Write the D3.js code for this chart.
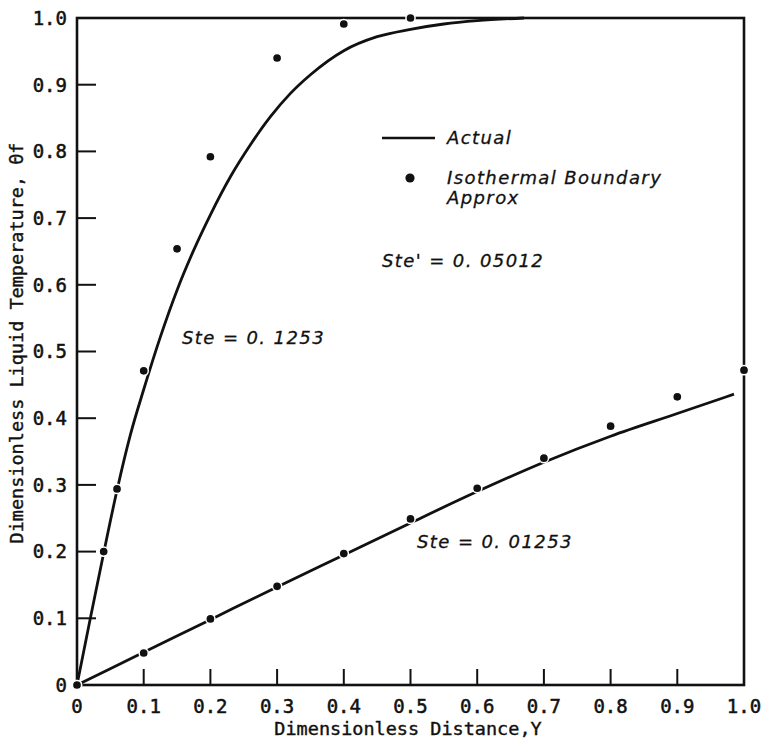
<!DOCTYPE html>
<html>
<head>
<meta charset="utf-8">
<script src="https://cdn.jsdelivr.net/npm/d3@7"></script>
<style>
  body { margin: 0; background: #fff; }
  .tick-label { font-family: "DejaVu Sans Mono", monospace; font-size: 19px; fill: #111; stroke: #111; stroke-width: 0.5px; }
  .axis-title { font-family: "DejaVu Sans Mono", monospace; font-size: 18.5px; fill: #111; stroke: #111; stroke-width: 0.4px; }
  .note { font-family: "DejaVu Sans", sans-serif; font-style: italic; font-size: 18px; letter-spacing: 1.4px; fill: #111; stroke: #111; stroke-width: 0.3px; }
</style>
</head>
<body>
<svg id="chart"></svg>
<script>
// Constants
const width = 770;
const height = 744;
const ink = "#111";

// Data: "Actual" curves
const highCurveX = [0, 0.02, 0.04, 0.06, 0.08, 0.10, 0.125, 0.15, 0.175, 0.20, 0.23, 0.26, 0.29, 0.32, 0.35, 0.40, 0.45, 0.50, 0.55, 0.60, 0.67];
const highCurveY = [0, 0.10, 0.198, 0.292, 0.375, 0.443, 0.522, 0.592, 0.652, 0.705, 0.762, 0.81, 0.852, 0.887, 0.915, 0.951, 0.972, 0.983, 0.991, 0.996, 1.0];
const lowCurveX = [0, 0.1, 0.2, 0.3, 0.4, 0.5, 0.6, 0.7, 0.8, 0.9, 0.985];
const lowCurveY = [0, 0.049, 0.098, 0.147, 0.195, 0.243, 0.29, 0.334, 0.373, 0.407, 0.436];

// Data: isothermal boundary approximation points
const highDotX = [0, 0.04, 0.06, 0.10, 0.15, 0.20, 0.30, 0.40, 0.50];
const highDotY = [0, 0.20, 0.294, 0.471, 0.654, 0.792, 0.94, 0.991, 1.0];
const lowDotX = [0, 0.1, 0.2, 0.3, 0.4, 0.5, 0.6, 0.7, 0.8, 0.9, 1.0];
const lowDotY = [0, 0.048, 0.099, 0.148, 0.197, 0.249, 0.295, 0.34, 0.388, 0.432, 0.472];

// Tick labels
const tickValues = [0, 0.1, 0.2, 0.3, 0.4, 0.5, 0.6, 0.7, 0.8, 0.9, 1.0];
const tickText = ["0", "0.1", "0.2", "0.3", "0.4", "0.5", "0.6", "0.7", "0.8", "0.9", "1.0"];

const svg = d3.select("#chart")
  .attr("width", width)
  .attr("height", height)
  .attr("viewBox", [0, 0, width, height]);

const x = d3.scaleLinear().domain([0, 1]).range([77, 744]);
const y = d3.scaleLinear().domain([0, 1]).range([685, 18]);

// Frame
svg.append("rect")
  .attr("x", x(0)).attr("y", y(1))
  .attr("width", x(1) - x(0)).attr("height", y(0) - y(1))
  .attr("fill", "none").attr("stroke", ink).attr("stroke-width", 2.6);

// Inner ticks
const inner = tickValues.slice(1, -1);
svg.append("g").selectAll("line")
  .data(inner).join("line")
    .attr("x1", x(0)).attr("x2", x(0) + 19)
    .attr("y1", d => y(d)).attr("y2", d => y(d))
    .attr("stroke", ink).attr("stroke-width", 2);
svg.append("g").selectAll("line")
  .data(inner).join("line")
    .attr("x1", d => x(d)).attr("x2", d => x(d))
    .attr("y1", y(0)).attr("y2", y(0) - 16)
    .attr("stroke", ink).attr("stroke-width", 2);

// Tick labels
svg.append("g").selectAll("text")
  .data(tickValues).join("text")
    .attr("class", "tick-label")
    .attr("x", x(0) - 10)
    .attr("y", d => y(d))
    .attr("dy", "0.36em")
    .attr("text-anchor", "end")
    .text((d, i) => tickText[i]);
svg.append("g").selectAll("text")
  .data(tickValues).join("text")
    .attr("class", "tick-label")
    .attr("x", d => x(d))
    .attr("y", 713)
    .attr("text-anchor", "middle")
    .text((d, i) => tickText[i]);

// Axis titles
svg.append("text")
  .attr("class", "axis-title")
  .attr("x", 408).attr("y", 735)
  .attr("text-anchor", "middle")
  .text("Dimensionless Distance,Y");
svg.append("text")
  .attr("class", "axis-title")
  .attr("transform", "translate(23,343) rotate(-90)")
  .attr("text-anchor", "middle")
  .text("Dimensionless Liquid Temperature, \u0398f");

// Curves
const line = d3.line()
  .x(d => x(d[0]))
  .y(d => y(d[1]))
  .curve(d3.curveMonotoneX);

const curves = [d3.zip(highCurveX, highCurveY), d3.zip(lowCurveX, lowCurveY)];
svg.append("g").selectAll("path")
  .data(curves).join("path")
    .attr("d", line)
    .attr("fill", "none")
    .attr("stroke", ink)
    .attr("stroke-width", 2.8);

// Dots
const dots = d3.zip(highDotX, highDotY).concat(d3.zip(lowDotX, lowDotY));
svg.append("g").selectAll("circle")
  .data(dots).join("circle")
    .attr("cx", d => x(d[0]))
    .attr("cy", d => y(d[1]))
    .attr("r", 4.6)
    .attr("fill", ink)
    .attr("stroke", "#fff")
    .attr("stroke-width", 1.5);

// Legend
svg.append("line")
  .attr("x1", 382).attr("x2", 435)
  .attr("y1", 138).attr("y2", 138)
  .attr("stroke", ink).attr("stroke-width", 2.6);
svg.append("text").attr("class", "note").attr("x", 447).attr("y", 144).text("Actual");
svg.append("circle").attr("cx", 410).attr("cy", 178).attr("r", 4.6).attr("fill", ink);
svg.append("text").attr("class", "note").attr("x", 447).attr("y", 184).text("Isothermal  Boundary");
svg.append("text").attr("class", "note").attr("x", 447).attr("y", 204).text("Approx");

// Annotations
svg.append("text").attr("class", "note").attr("x", 382).attr("y", 267).text("Ste' = 0. 05012");
svg.append("text").attr("class", "note").attr("x", 182).attr("y", 344).text("Ste = 0. 1253");
svg.append("text").attr("class", "note").attr("x", 417).attr("y", 548).text("Ste = 0. 01253");
</script>
</body>
</html>
